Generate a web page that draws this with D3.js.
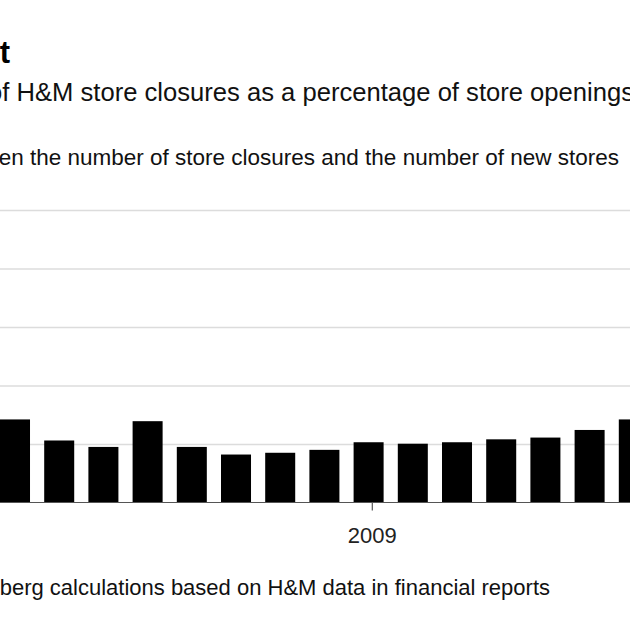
<!DOCTYPE html>
<html>
<head>
<meta charset="utf-8">
<script src="https://cdn.jsdelivr.net/npm/d3@7"></script>
<style>
  html, body { margin: 0; padding: 0; background: #fff; }
  svg { display: block; font-family: "Liberation Sans", Arial, Helvetica, sans-serif; }
</style>
</head>
<body>
<svg id="chart" width="630" height="630"></svg>
<script>
// ---- data ----
const titleText = "t";
const subtitleText = "of H&M store closures as a percentage of store openings";
const noteText = "between the number of store closures and the number of new stores";
const sourceText = "Source: Bloomberg calculations based on H&M data in financial reports";
const quarters = ["2007 Q1","2007 Q2","2007 Q3","2007 Q4","2008 Q1","2008 Q2","2008 Q3","2008 Q4",
                  "2009 Q1","2009 Q2","2009 Q3","2009 Q4","2010 Q1","2010 Q2","2010 Q3"];
const values = [14.2, 10.6, 9.5, 13.9, 9.5, 8.2, 8.5, 9.0, 10.3, 10.05, 10.3, 10.8, 11.1, 12.4, 14.2];
const yTicks = [0, 10, 20, 30, 40, 50];
const xTickCats = ["2009 Q1"];
const xTickLabels = ["2009"];

// ---- layout ----
const svg = d3.select("#chart");
const step = 44.2, padIn = 0.321;
const x = d3.scaleBand()
  .domain(quarters)
  .range([-step * padIn / 2, -step * padIn / 2 + step * quarters.length])
  .paddingInner(padIn)
  .paddingOuter(padIn / 2);
const y = d3.scaleLinear().domain([0, 50]).range([502.5, 210]);

// gridlines
const yAxis = d3.axisLeft(y).tickValues(yTicks.slice(1)).tickSize(-700).tickFormat("");
const gy = svg.append("g").call(yAxis);
gy.select(".domain").remove();
gy.selectAll(".tick line").attr("stroke", "#dcdcdc").attr("stroke-width", 1.5);

// bars
svg.append("g").selectAll("rect")
  .data(values)
  .join("rect")
  .attr("x", (d, i) => x(quarters[i]))
  .attr("width", x.bandwidth())
  .attr("y", d => y(d))
  .attr("height", d => y(0) - y(d))
  .attr("fill", "#000");

// baseline
svg.append("line")
  .attr("x1", 0).attr("x2", 630)
  .attr("y1", y(0)).attr("y2", y(0))
  .attr("stroke", "#555").attr("stroke-width", 1);

// x axis tick
const tickShift = 3.7;
const gx = svg.append("g").attr("transform", `translate(0,${y(0)})`);
const tk = gx.selectAll("g").data(xTickCats).join("g")
  .attr("transform", d => `translate(${x(d) + x.bandwidth() / 2 + tickShift},0)`);
tk.append("line").attr("y1", 0).attr("y2", 8).attr("stroke", "#555").attr("stroke-width", 1.2);
tk.append("text").attr("y", 40).attr("text-anchor", "middle")
  .attr("font-size", 22).attr("fill", "#222")
  .text((d, i) => xTickLabels[i]);

// texts
svg.append("text").attr("x", 10).attr("y", 63).attr("text-anchor", "end")
  .attr("font-size", 31).attr("font-weight", "bold").attr("fill", "#000").text(titleText);
svg.append("text").attr("x", 634).attr("y", 101).attr("text-anchor", "end")
  .attr("font-size", 25.6).attr("fill", "#111").text(subtitleText);
svg.append("text").attr("x", 619).attr("y", 165).attr("text-anchor", "end")
  .attr("font-size", 22.5).attr("fill", "#111").text(noteText);
svg.append("text").attr("x", 550).attr("y", 595).attr("text-anchor", "end")
  .attr("font-size", 22).attr("fill", "#111").text(sourceText);
</script>
</body>
</html>
